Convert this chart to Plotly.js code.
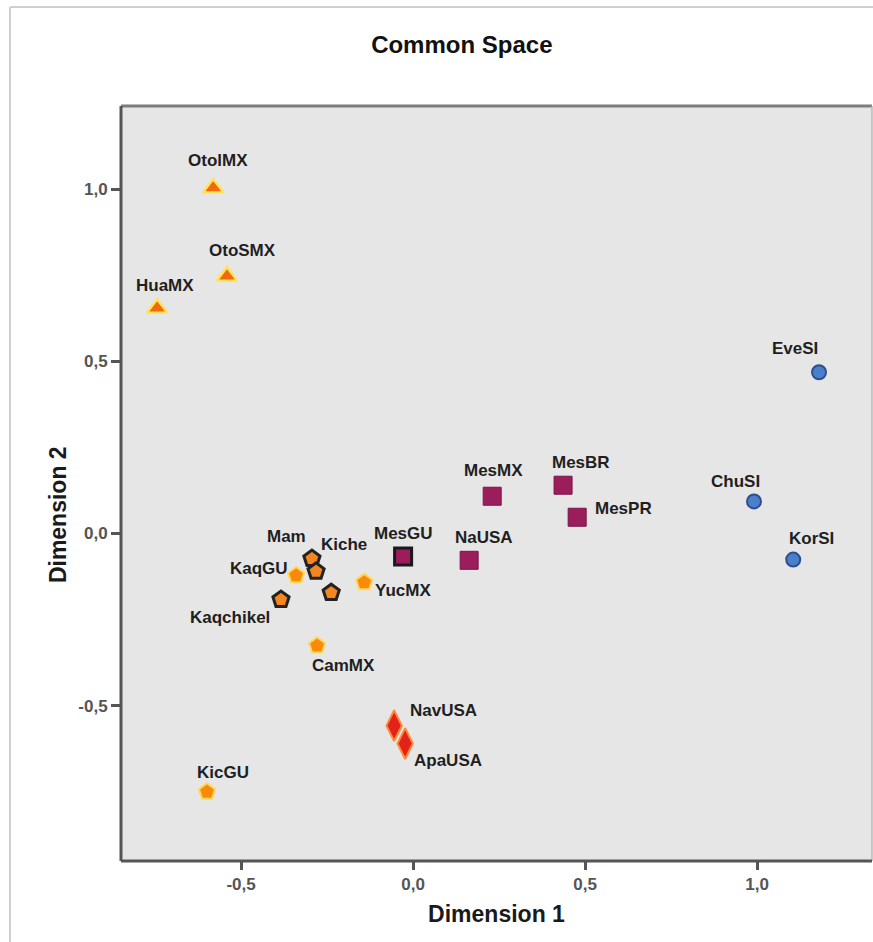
<!DOCTYPE html>
<html>
<head>
<meta charset="utf-8">
<script src="https://cdn.plot.ly/plotly-3.0.1.min.js"></script>
<style>html,body{margin:0;padding:0;background:#fff;}#chart{width:873px;height:942px;}</style>
</head>
<body>
<div id="chart"></div>
<script>
// ---- data ----
const otoNames = ["OtolMX", "OtoSMX", "HuaMX"];
const otoX = [-0.581, -0.541, -0.744];
const otoY = [1.003, 0.747, 0.654];

const siNames = ["EveSI", "ChuSI", "KorSI"];
const siX = [1.180, 0.991, 1.105];
const siY = [0.468, 0.093, -0.076];

const mesNames = ["MesMX", "MesBR", "MesPR", "NaUSA"];
const mesX = [0.230, 0.436, 0.477, 0.163];
const mesY = [0.108, 0.140, 0.047, -0.078];

const mesguNames = ["MesGU"];
const mesguX = [-0.029];
const mesguY = [-0.067];

const mayaNames = ["Mam", "Kiche", "", "Kaqchikel"];
const mayaX = [-0.294, -0.282, -0.238, -0.384];
const mayaY = [-0.073, -0.110, -0.172, -0.192];

const orangeNames = ["KaqGU", "YucMX", "CamMX", "KicGU"];
const orangeX = [-0.340, -0.142, -0.279, -0.599];
const orangeY = [-0.122, -0.142, -0.326, -0.750];

const athNames = ["NavUSA", "ApaUSA"];
const athX = [-0.055, -0.023];
const athY = [-0.558, -0.610];

const tickVals = [-0.5, 0.0, 0.5, 1.0];
const tickText = ["-0,5", "0,0", "0,5", "1,0"];

// ---- label offsets (pixels, style only) ----
const labelShift = {
  OtolMX: [5, 27], OtoSMX: [16, 26], HuaMX: [8, 23],
  EveSI: [-24, 24], ChuSI: [-19, 20], KorSI: [18, 21],
  MesMX: [1, 26], MesBR: [18, 23], MesPR: [46, 9], NaUSA: [15, 23],
  MesGU: [0, 23],
  Mam: [-25, 22], Kiche: [28, 27], Kaqchikel: [-51, -18],
  KaqGU: [-37, 7], YucMX: [39, -8], CamMX: [26, -20], KicGU: [16, 19],
  NavUSA: [49, 15], ApaUSA: [43, -17]
};

const groups = [
  {n: otoNames, x: otoX, y: otoY, marker: {symbol: "triangle-up", size: 18, color: "#f26a0c", line: {color: "#ffe45c", width: 2.5}}},
  {n: siNames, x: siX, y: siY, marker: {symbol: "circle", size: 14, color: "#4a7fcb", line: {color: "#2d4f8e", width: 2}}},
  {n: mesNames, x: mesX, y: mesY, marker: {symbol: "square", size: 18, color: "#9b1d5c", line: {color: "#7a1547", width: 1}}},
  {n: mesguNames, x: mesguX, y: mesguY, marker: {symbol: "square", size: 17, color: "#9b1d5c", line: {color: "#1a1a1a", width: 3}}},
  {n: mayaNames, x: mayaX, y: mayaY, marker: {symbol: "pentagon", size: 17, color: "#f5851f", line: {color: "#222222", width: 3}}},
  {n: orangeNames, x: orangeX, y: orangeY, marker: {symbol: "pentagon", size: 17, color: "#fb8a0c", line: {color: "#ffd85a", width: 2}}},
  {n: athNames, x: athX, y: athY, marker: {symbol: "diamond-tall", size: 22, color: "#e3221a", line: {color: "#ff8a3a", width: 2}}}
];

const traces = groups.map(g => ({
  type: "scatter", mode: "markers", x: g.x, y: g.y, text: g.n,
  marker: g.marker, hoverinfo: "text", showlegend: false, cliponaxis: false
}));

const annotations = [];
groups.forEach(g => {
  g.n.forEach((name, i) => {
    if (!name) return;
    const s = labelShift[name] || [0, 22];
    annotations.push({
      x: g.x[i], y: g.y[i], xref: "x", yref: "y", text: name, showarrow: false,
      xshift: s[0], yshift: s[1],
      font: {family: "Liberation Sans, Arial, sans-serif", size: 17, color: "#1f1f1f", weight: "bold"}
    });
  });
});

// y-axis title as annotation (placed like the reference)
annotations.push({
  xref: "paper", yref: "paper", x: -0.083, y: 0.459, text: "Dimension 2", textangle: -90,
  showarrow: false, xanchor: "center", yanchor: "middle",
  font: {family: "Liberation Sans, Arial, sans-serif", size: 23, color: "#1a1a1a", weight: "bold"}
});

const shapes = [
  // outer light frame
  {type: "line", xref: "paper", yref: "paper", x0: -0.1478, x1: -0.1478, y0: 1.131, y1: -0.2, line: {color: "#cfcfcf", width: 2}},
  {type: "line", xref: "paper", yref: "paper", x0: -0.1478, x1: 1.05, y0: 1.131, y1: 1.131, line: {color: "#cfcfcf", width: 2}},
  // plot frame
  {type: "line", xref: "paper", yref: "paper", x0: 0, x1: 1, y0: 1, y1: 1, line: {color: "#7d7d7d", width: 3}},
  {type: "line", xref: "paper", yref: "paper", x0: 1, x1: 1, y0: 0, y1: 1, line: {color: "#b8b8b8", width: 1.5}},
  {type: "line", xref: "paper", yref: "paper", x0: 0, x1: 0, y0: 0, y1: 1, line: {color: "#555555", width: 3}},
  {type: "line", xref: "paper", yref: "paper", x0: 0, x1: 1, y0: 0, y1: 0, line: {color: "#555555", width: 3}}
];

const layout = {
  width: 873, height: 942,
  margin: {l: 121, r: 1, t: 106, b: 81},
  paper_bgcolor: "#ffffff", plot_bgcolor: "#e6e6e6",
  showlegend: false,
  title: {text: "Common Space", x: 0.529, xanchor: "center", y: 0.953, yanchor: "middle",
          font: {family: "Liberation Sans, Arial, sans-serif", size: 24, color: "#111", weight: "bold"}},
  xaxis: {
    range: [-0.849, 1.334], tickmode: "array", tickvals: tickVals, ticktext: tickText,
    showgrid: false, zeroline: false, showline: false,
    ticks: "outside", ticklen: 8, tickwidth: 3, tickcolor: "#555",
    tickfont: {family: "Liberation Sans, Arial, sans-serif", size: 17, color: "#555", weight: "bold"},
    title: {text: "Dimension 1", standoff: 12, font: {family: "Liberation Sans, Arial, sans-serif", size: 23, color: "#1a1a1a", weight: "bold"}}
  },
  yaxis: {
    range: [-0.951, 1.241], tickmode: "array", tickvals: tickVals, ticktext: tickText,
    showgrid: false, zeroline: false, showline: false,
    ticks: "outside", ticklen: 9, tickwidth: 3, tickcolor: "#555",
    tickfont: {family: "Liberation Sans, Arial, sans-serif", size: 17, color: "#555", weight: "bold"}
  },
  annotations: annotations,
  shapes: shapes
};

Plotly.newPlot("chart", traces, layout, {displayModeBar: false, staticPlot: true});
</script>
</body>
</html>
